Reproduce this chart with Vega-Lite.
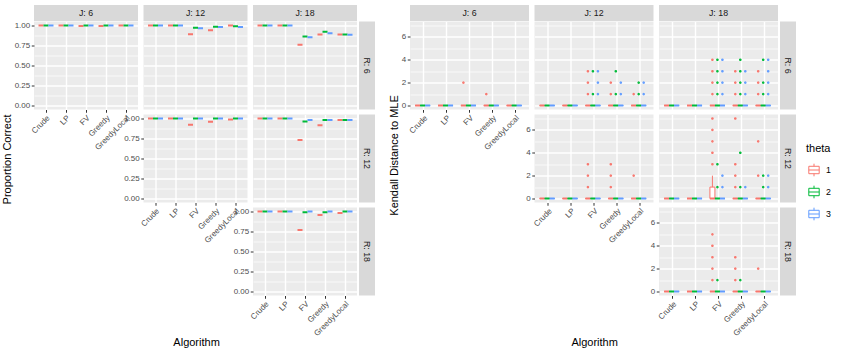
{
"$schema": "https://vega.github.io/schema/vega-lite/v6.json",
"padding": {"left": 2, "top": 5, "right": 2, "bottom": 0},
"datasets": {
"pc": [
{"J":6,"R":6,"Algorithm":"Crude","theta":1,"value":1},{"J":6,"R":6,"Algorithm":"Crude","theta":2,"value":1},{"J":6,"R":6,"Algorithm":"Crude","theta":3,"value":1},
{"J":6,"R":6,"Algorithm":"LP","theta":1,"value":1},{"J":6,"R":6,"Algorithm":"LP","theta":2,"value":1},{"J":6,"R":6,"Algorithm":"LP","theta":3,"value":1},
{"J":6,"R":6,"Algorithm":"FV","theta":1,"value":0.995},{"J":6,"R":6,"Algorithm":"FV","theta":2,"value":1},{"J":6,"R":6,"Algorithm":"FV","theta":3,"value":1},
{"J":6,"R":6,"Algorithm":"Greedy","theta":1,"value":0.995},{"J":6,"R":6,"Algorithm":"Greedy","theta":2,"value":1},{"J":6,"R":6,"Algorithm":"Greedy","theta":3,"value":1},
{"J":6,"R":6,"Algorithm":"GreedyLocal","theta":1,"value":1},{"J":6,"R":6,"Algorithm":"GreedyLocal","theta":2,"value":1},{"J":6,"R":6,"Algorithm":"GreedyLocal","theta":3,"value":1},
{"J":12,"R":6,"Algorithm":"Crude","theta":1,"value":1},{"J":12,"R":6,"Algorithm":"Crude","theta":2,"value":1},{"J":12,"R":6,"Algorithm":"Crude","theta":3,"value":1},
{"J":12,"R":6,"Algorithm":"LP","theta":1,"value":1},{"J":12,"R":6,"Algorithm":"LP","theta":2,"value":1},{"J":12,"R":6,"Algorithm":"LP","theta":3,"value":1},
{"J":12,"R":6,"Algorithm":"FV","theta":1,"value":0.89},{"J":12,"R":6,"Algorithm":"FV","theta":2,"value":0.972},{"J":12,"R":6,"Algorithm":"FV","theta":3,"value":0.967},
{"J":12,"R":6,"Algorithm":"Greedy","theta":1,"value":0.942},{"J":12,"R":6,"Algorithm":"Greedy","theta":2,"value":0.985},{"J":12,"R":6,"Algorithm":"Greedy","theta":3,"value":0.98},
{"J":12,"R":6,"Algorithm":"GreedyLocal","theta":1,"value":1},{"J":12,"R":6,"Algorithm":"GreedyLocal","theta":2,"value":0.99},{"J":12,"R":6,"Algorithm":"GreedyLocal","theta":3,"value":0.98},
{"J":18,"R":6,"Algorithm":"Crude","theta":1,"value":1},{"J":18,"R":6,"Algorithm":"Crude","theta":2,"value":1},{"J":18,"R":6,"Algorithm":"Crude","theta":3,"value":1},
{"J":18,"R":6,"Algorithm":"LP","theta":1,"value":1},{"J":18,"R":6,"Algorithm":"LP","theta":2,"value":1},{"J":18,"R":6,"Algorithm":"LP","theta":3,"value":1},
{"J":18,"R":6,"Algorithm":"FV","theta":1,"value":0.76},{"J":18,"R":6,"Algorithm":"FV","theta":2,"value":0.862},{"J":18,"R":6,"Algorithm":"FV","theta":3,"value":0.854},
{"J":18,"R":6,"Algorithm":"Greedy","theta":1,"value":0.888},{"J":18,"R":6,"Algorithm":"Greedy","theta":2,"value":0.923},{"J":18,"R":6,"Algorithm":"Greedy","theta":3,"value":0.904},
{"J":18,"R":6,"Algorithm":"GreedyLocal","theta":1,"value":0.888},{"J":18,"R":6,"Algorithm":"GreedyLocal","theta":2,"value":0.886},{"J":18,"R":6,"Algorithm":"GreedyLocal","theta":3,"value":0.885},
{"J":12,"R":12,"Algorithm":"Crude","theta":1,"value":1},{"J":12,"R":12,"Algorithm":"Crude","theta":2,"value":1},{"J":12,"R":12,"Algorithm":"Crude","theta":3,"value":1},
{"J":12,"R":12,"Algorithm":"LP","theta":1,"value":1},{"J":12,"R":12,"Algorithm":"LP","theta":2,"value":1},{"J":12,"R":12,"Algorithm":"LP","theta":3,"value":1},
{"J":12,"R":12,"Algorithm":"FV","theta":1,"value":0.923},{"J":12,"R":12,"Algorithm":"FV","theta":2,"value":1},{"J":12,"R":12,"Algorithm":"FV","theta":3,"value":1},
{"J":12,"R":12,"Algorithm":"Greedy","theta":1,"value":0.958},{"J":12,"R":12,"Algorithm":"Greedy","theta":2,"value":1},{"J":12,"R":12,"Algorithm":"Greedy","theta":3,"value":1},
{"J":12,"R":12,"Algorithm":"GreedyLocal","theta":1,"value":0.988},{"J":12,"R":12,"Algorithm":"GreedyLocal","theta":2,"value":1},{"J":12,"R":12,"Algorithm":"GreedyLocal","theta":3,"value":1},
{"J":18,"R":12,"Algorithm":"Crude","theta":1,"value":1},{"J":18,"R":12,"Algorithm":"Crude","theta":2,"value":1},{"J":18,"R":12,"Algorithm":"Crude","theta":3,"value":1},
{"J":18,"R":12,"Algorithm":"LP","theta":1,"value":1},{"J":18,"R":12,"Algorithm":"LP","theta":2,"value":1},{"J":18,"R":12,"Algorithm":"LP","theta":3,"value":1},
{"J":18,"R":12,"Algorithm":"FV","theta":1,"value":0.73},{"J":18,"R":12,"Algorithm":"FV","theta":2,"value":0.962},{"J":18,"R":12,"Algorithm":"FV","theta":3,"value":0.981},
{"J":18,"R":12,"Algorithm":"Greedy","theta":1,"value":0.916},{"J":18,"R":12,"Algorithm":"Greedy","theta":2,"value":0.981},{"J":18,"R":12,"Algorithm":"Greedy","theta":3,"value":0.981},
{"J":18,"R":12,"Algorithm":"GreedyLocal","theta":1,"value":0.982},{"J":18,"R":12,"Algorithm":"GreedyLocal","theta":2,"value":0.982},{"J":18,"R":12,"Algorithm":"GreedyLocal","theta":3,"value":0.982},
{"J":18,"R":18,"Algorithm":"Crude","theta":1,"value":1},{"J":18,"R":18,"Algorithm":"Crude","theta":2,"value":1},{"J":18,"R":18,"Algorithm":"Crude","theta":3,"value":1},
{"J":18,"R":18,"Algorithm":"LP","theta":1,"value":1},{"J":18,"R":18,"Algorithm":"LP","theta":2,"value":1},{"J":18,"R":18,"Algorithm":"LP","theta":3,"value":1},
{"J":18,"R":18,"Algorithm":"FV","theta":1,"value":0.77},{"J":18,"R":18,"Algorithm":"FV","theta":2,"value":0.99},{"J":18,"R":18,"Algorithm":"FV","theta":3,"value":1},
{"J":18,"R":18,"Algorithm":"Greedy","theta":1,"value":0.955},{"J":18,"R":18,"Algorithm":"Greedy","theta":2,"value":0.99},{"J":18,"R":18,"Algorithm":"Greedy","theta":3,"value":1},
{"J":18,"R":18,"Algorithm":"GreedyLocal","theta":1,"value":0.98},{"J":18,"R":18,"Algorithm":"GreedyLocal","theta":2,"value":1},{"J":18,"R":18,"Algorithm":"GreedyLocal","theta":3,"value":1}
],
"kdbox": [
{"J":6,"R":6,"Algorithm":"Crude","theta":1,"q1":0,"med":0,"q3":0,"hi":0},{"J":6,"R":6,"Algorithm":"Crude","theta":2,"q1":0,"med":0,"q3":0,"hi":0},{"J":6,"R":6,"Algorithm":"Crude","theta":3,"q1":0,"med":0,"q3":0,"hi":0},
{"J":6,"R":6,"Algorithm":"LP","theta":1,"q1":0,"med":0,"q3":0,"hi":0},{"J":6,"R":6,"Algorithm":"LP","theta":2,"q1":0,"med":0,"q3":0,"hi":0},{"J":6,"R":6,"Algorithm":"LP","theta":3,"q1":0,"med":0,"q3":0,"hi":0},
{"J":6,"R":6,"Algorithm":"FV","theta":1,"q1":0,"med":0,"q3":0,"hi":0},{"J":6,"R":6,"Algorithm":"FV","theta":2,"q1":0,"med":0,"q3":0,"hi":0},{"J":6,"R":6,"Algorithm":"FV","theta":3,"q1":0,"med":0,"q3":0,"hi":0},
{"J":6,"R":6,"Algorithm":"Greedy","theta":1,"q1":0,"med":0,"q3":0,"hi":0},{"J":6,"R":6,"Algorithm":"Greedy","theta":2,"q1":0,"med":0,"q3":0,"hi":0},{"J":6,"R":6,"Algorithm":"Greedy","theta":3,"q1":0,"med":0,"q3":0,"hi":0},
{"J":6,"R":6,"Algorithm":"GreedyLocal","theta":1,"q1":0,"med":0,"q3":0,"hi":0},{"J":6,"R":6,"Algorithm":"GreedyLocal","theta":2,"q1":0,"med":0,"q3":0,"hi":0},{"J":6,"R":6,"Algorithm":"GreedyLocal","theta":3,"q1":0,"med":0,"q3":0,"hi":0},
{"J":12,"R":6,"Algorithm":"Crude","theta":1,"q1":0,"med":0,"q3":0,"hi":0},{"J":12,"R":6,"Algorithm":"Crude","theta":2,"q1":0,"med":0,"q3":0,"hi":0},{"J":12,"R":6,"Algorithm":"Crude","theta":3,"q1":0,"med":0,"q3":0,"hi":0},
{"J":12,"R":6,"Algorithm":"LP","theta":1,"q1":0,"med":0,"q3":0,"hi":0},{"J":12,"R":6,"Algorithm":"LP","theta":2,"q1":0,"med":0,"q3":0,"hi":0},{"J":12,"R":6,"Algorithm":"LP","theta":3,"q1":0,"med":0,"q3":0,"hi":0},
{"J":12,"R":6,"Algorithm":"FV","theta":1,"q1":0,"med":0,"q3":0,"hi":0},{"J":12,"R":6,"Algorithm":"FV","theta":2,"q1":0,"med":0,"q3":0,"hi":0},{"J":12,"R":6,"Algorithm":"FV","theta":3,"q1":0,"med":0,"q3":0,"hi":0},
{"J":12,"R":6,"Algorithm":"Greedy","theta":1,"q1":0,"med":0,"q3":0,"hi":0},{"J":12,"R":6,"Algorithm":"Greedy","theta":2,"q1":0,"med":0,"q3":0,"hi":0},{"J":12,"R":6,"Algorithm":"Greedy","theta":3,"q1":0,"med":0,"q3":0,"hi":0},
{"J":12,"R":6,"Algorithm":"GreedyLocal","theta":1,"q1":0,"med":0,"q3":0,"hi":0},{"J":12,"R":6,"Algorithm":"GreedyLocal","theta":2,"q1":0,"med":0,"q3":0,"hi":0},{"J":12,"R":6,"Algorithm":"GreedyLocal","theta":3,"q1":0,"med":0,"q3":0,"hi":0},
{"J":18,"R":6,"Algorithm":"Crude","theta":1,"q1":0,"med":0,"q3":0,"hi":0},{"J":18,"R":6,"Algorithm":"Crude","theta":2,"q1":0,"med":0,"q3":0,"hi":0},{"J":18,"R":6,"Algorithm":"Crude","theta":3,"q1":0,"med":0,"q3":0,"hi":0},
{"J":18,"R":6,"Algorithm":"LP","theta":1,"q1":0,"med":0,"q3":0,"hi":0},{"J":18,"R":6,"Algorithm":"LP","theta":2,"q1":0,"med":0,"q3":0,"hi":0},{"J":18,"R":6,"Algorithm":"LP","theta":3,"q1":0,"med":0,"q3":0,"hi":0},
{"J":18,"R":6,"Algorithm":"FV","theta":1,"q1":0,"med":0,"q3":0,"hi":0},{"J":18,"R":6,"Algorithm":"FV","theta":2,"q1":0,"med":0,"q3":0,"hi":0},{"J":18,"R":6,"Algorithm":"FV","theta":3,"q1":0,"med":0,"q3":0,"hi":0},
{"J":18,"R":6,"Algorithm":"Greedy","theta":1,"q1":0,"med":0,"q3":0,"hi":0},{"J":18,"R":6,"Algorithm":"Greedy","theta":2,"q1":0,"med":0,"q3":0,"hi":0},{"J":18,"R":6,"Algorithm":"Greedy","theta":3,"q1":0,"med":0,"q3":0,"hi":0},
{"J":18,"R":6,"Algorithm":"GreedyLocal","theta":1,"q1":0,"med":0,"q3":0,"hi":0},{"J":18,"R":6,"Algorithm":"GreedyLocal","theta":2,"q1":0,"med":0,"q3":0,"hi":0},{"J":18,"R":6,"Algorithm":"GreedyLocal","theta":3,"q1":0,"med":0,"q3":0,"hi":0},
{"J":12,"R":12,"Algorithm":"Crude","theta":1,"q1":0,"med":0,"q3":0,"hi":0},{"J":12,"R":12,"Algorithm":"Crude","theta":2,"q1":0,"med":0,"q3":0,"hi":0},{"J":12,"R":12,"Algorithm":"Crude","theta":3,"q1":0,"med":0,"q3":0,"hi":0},
{"J":12,"R":12,"Algorithm":"LP","theta":1,"q1":0,"med":0,"q3":0,"hi":0},{"J":12,"R":12,"Algorithm":"LP","theta":2,"q1":0,"med":0,"q3":0,"hi":0},{"J":12,"R":12,"Algorithm":"LP","theta":3,"q1":0,"med":0,"q3":0,"hi":0},
{"J":12,"R":12,"Algorithm":"FV","theta":1,"q1":0,"med":0,"q3":0,"hi":0},{"J":12,"R":12,"Algorithm":"FV","theta":2,"q1":0,"med":0,"q3":0,"hi":0},{"J":12,"R":12,"Algorithm":"FV","theta":3,"q1":0,"med":0,"q3":0,"hi":0},
{"J":12,"R":12,"Algorithm":"Greedy","theta":1,"q1":0,"med":0,"q3":0,"hi":0},{"J":12,"R":12,"Algorithm":"Greedy","theta":2,"q1":0,"med":0,"q3":0,"hi":0},{"J":12,"R":12,"Algorithm":"Greedy","theta":3,"q1":0,"med":0,"q3":0,"hi":0},
{"J":12,"R":12,"Algorithm":"GreedyLocal","theta":1,"q1":0,"med":0,"q3":0,"hi":0},{"J":12,"R":12,"Algorithm":"GreedyLocal","theta":2,"q1":0,"med":0,"q3":0,"hi":0},{"J":12,"R":12,"Algorithm":"GreedyLocal","theta":3,"q1":0,"med":0,"q3":0,"hi":0},
{"J":18,"R":12,"Algorithm":"Crude","theta":1,"q1":0,"med":0,"q3":0,"hi":0},{"J":18,"R":12,"Algorithm":"Crude","theta":2,"q1":0,"med":0,"q3":0,"hi":0},{"J":18,"R":12,"Algorithm":"Crude","theta":3,"q1":0,"med":0,"q3":0,"hi":0},
{"J":18,"R":12,"Algorithm":"LP","theta":1,"q1":0,"med":0,"q3":0,"hi":0},{"J":18,"R":12,"Algorithm":"LP","theta":2,"q1":0,"med":0,"q3":0,"hi":0},{"J":18,"R":12,"Algorithm":"LP","theta":3,"q1":0,"med":0,"q3":0,"hi":0},
{"J":18,"R":12,"Algorithm":"FV","theta":1,"q1":0,"med":0,"q3":1,"hi":2},{"J":18,"R":12,"Algorithm":"FV","theta":2,"q1":0,"med":0,"q3":0,"hi":0},{"J":18,"R":12,"Algorithm":"FV","theta":3,"q1":0,"med":0,"q3":0,"hi":0},
{"J":18,"R":12,"Algorithm":"Greedy","theta":1,"q1":0,"med":0,"q3":0,"hi":0},{"J":18,"R":12,"Algorithm":"Greedy","theta":2,"q1":0,"med":0,"q3":0,"hi":0},{"J":18,"R":12,"Algorithm":"Greedy","theta":3,"q1":0,"med":0,"q3":0,"hi":0},
{"J":18,"R":12,"Algorithm":"GreedyLocal","theta":1,"q1":0,"med":0,"q3":0,"hi":0},{"J":18,"R":12,"Algorithm":"GreedyLocal","theta":2,"q1":0,"med":0,"q3":0,"hi":0},{"J":18,"R":12,"Algorithm":"GreedyLocal","theta":3,"q1":0,"med":0,"q3":0,"hi":0},
{"J":18,"R":18,"Algorithm":"Crude","theta":1,"q1":0,"med":0,"q3":0,"hi":0},{"J":18,"R":18,"Algorithm":"Crude","theta":2,"q1":0,"med":0,"q3":0,"hi":0},{"J":18,"R":18,"Algorithm":"Crude","theta":3,"q1":0,"med":0,"q3":0,"hi":0},
{"J":18,"R":18,"Algorithm":"LP","theta":1,"q1":0,"med":0,"q3":0,"hi":0},{"J":18,"R":18,"Algorithm":"LP","theta":2,"q1":0,"med":0,"q3":0,"hi":0},{"J":18,"R":18,"Algorithm":"LP","theta":3,"q1":0,"med":0,"q3":0,"hi":0},
{"J":18,"R":18,"Algorithm":"FV","theta":1,"q1":0,"med":0,"q3":0,"hi":0},{"J":18,"R":18,"Algorithm":"FV","theta":2,"q1":0,"med":0,"q3":0,"hi":0},{"J":18,"R":18,"Algorithm":"FV","theta":3,"q1":0,"med":0,"q3":0,"hi":0},
{"J":18,"R":18,"Algorithm":"Greedy","theta":1,"q1":0,"med":0,"q3":0,"hi":0},{"J":18,"R":18,"Algorithm":"Greedy","theta":2,"q1":0,"med":0,"q3":0,"hi":0},{"J":18,"R":18,"Algorithm":"Greedy","theta":3,"q1":0,"med":0,"q3":0,"hi":0},
{"J":18,"R":18,"Algorithm":"GreedyLocal","theta":1,"q1":0,"med":0,"q3":0,"hi":0},{"J":18,"R":18,"Algorithm":"GreedyLocal","theta":2,"q1":0,"med":0,"q3":0,"hi":0},{"J":18,"R":18,"Algorithm":"GreedyLocal","theta":3,"q1":0,"med":0,"q3":0,"hi":0}
],
"kdout": [
{"J":6,"R":6,"Algorithm":"FV","theta":1,"value":2},{"J":6,"R":6,"Algorithm":"Greedy","theta":1,"value":1},
{"J":12,"R":6,"Algorithm":"FV","theta":1,"value":1},{"J":12,"R":6,"Algorithm":"FV","theta":1,"value":2},{"J":12,"R":6,"Algorithm":"FV","theta":1,"value":3},
{"J":12,"R":6,"Algorithm":"FV","theta":2,"value":1},{"J":12,"R":6,"Algorithm":"FV","theta":2,"value":3},
{"J":12,"R":6,"Algorithm":"FV","theta":3,"value":1},{"J":12,"R":6,"Algorithm":"FV","theta":3,"value":2},{"J":12,"R":6,"Algorithm":"FV","theta":3,"value":3},
{"J":12,"R":6,"Algorithm":"Greedy","theta":1,"value":1},{"J":12,"R":6,"Algorithm":"Greedy","theta":1,"value":2},
{"J":12,"R":6,"Algorithm":"Greedy","theta":2,"value":1},{"J":12,"R":6,"Algorithm":"Greedy","theta":2,"value":3},
{"J":12,"R":6,"Algorithm":"Greedy","theta":3,"value":1},{"J":12,"R":6,"Algorithm":"Greedy","theta":3,"value":2},
{"J":12,"R":6,"Algorithm":"GreedyLocal","theta":1,"value":1},
{"J":12,"R":6,"Algorithm":"GreedyLocal","theta":2,"value":1},{"J":12,"R":6,"Algorithm":"GreedyLocal","theta":2,"value":2},
{"J":12,"R":6,"Algorithm":"GreedyLocal","theta":3,"value":1},{"J":12,"R":6,"Algorithm":"GreedyLocal","theta":3,"value":2},
{"J":18,"R":6,"Algorithm":"FV","theta":1,"value":1},{"J":18,"R":6,"Algorithm":"FV","theta":1,"value":2},{"J":18,"R":6,"Algorithm":"FV","theta":1,"value":3},{"J":18,"R":6,"Algorithm":"FV","theta":1,"value":4},
{"J":18,"R":6,"Algorithm":"FV","theta":2,"value":1},{"J":18,"R":6,"Algorithm":"FV","theta":2,"value":2},{"J":18,"R":6,"Algorithm":"FV","theta":2,"value":3},{"J":18,"R":6,"Algorithm":"FV","theta":2,"value":4},
{"J":18,"R":6,"Algorithm":"FV","theta":3,"value":1},{"J":18,"R":6,"Algorithm":"FV","theta":3,"value":2},{"J":18,"R":6,"Algorithm":"FV","theta":3,"value":3},{"J":18,"R":6,"Algorithm":"FV","theta":3,"value":4},
{"J":18,"R":6,"Algorithm":"Greedy","theta":1,"value":1},{"J":18,"R":6,"Algorithm":"Greedy","theta":1,"value":2},{"J":18,"R":6,"Algorithm":"Greedy","theta":1,"value":3},
{"J":18,"R":6,"Algorithm":"Greedy","theta":2,"value":1},{"J":18,"R":6,"Algorithm":"Greedy","theta":2,"value":2},{"J":18,"R":6,"Algorithm":"Greedy","theta":2,"value":3},{"J":18,"R":6,"Algorithm":"Greedy","theta":2,"value":4},
{"J":18,"R":6,"Algorithm":"Greedy","theta":3,"value":1},{"J":18,"R":6,"Algorithm":"Greedy","theta":3,"value":2},{"J":18,"R":6,"Algorithm":"Greedy","theta":3,"value":3},
{"J":18,"R":6,"Algorithm":"GreedyLocal","theta":1,"value":1},{"J":18,"R":6,"Algorithm":"GreedyLocal","theta":1,"value":2},{"J":18,"R":6,"Algorithm":"GreedyLocal","theta":1,"value":3},
{"J":18,"R":6,"Algorithm":"GreedyLocal","theta":2,"value":1},{"J":18,"R":6,"Algorithm":"GreedyLocal","theta":2,"value":2},{"J":18,"R":6,"Algorithm":"GreedyLocal","theta":2,"value":4},
{"J":18,"R":6,"Algorithm":"GreedyLocal","theta":3,"value":1},{"J":18,"R":6,"Algorithm":"GreedyLocal","theta":3,"value":2},{"J":18,"R":6,"Algorithm":"GreedyLocal","theta":3,"value":3},{"J":18,"R":6,"Algorithm":"GreedyLocal","theta":3,"value":4},
{"J":12,"R":12,"Algorithm":"FV","theta":1,"value":1},{"J":12,"R":12,"Algorithm":"FV","theta":1,"value":2},{"J":12,"R":12,"Algorithm":"FV","theta":1,"value":3},
{"J":12,"R":12,"Algorithm":"Greedy","theta":1,"value":1},{"J":12,"R":12,"Algorithm":"Greedy","theta":1,"value":2},{"J":12,"R":12,"Algorithm":"Greedy","theta":1,"value":3},
{"J":12,"R":12,"Algorithm":"GreedyLocal","theta":1,"value":2},
{"J":18,"R":12,"Algorithm":"FV","theta":1,"value":3},{"J":18,"R":12,"Algorithm":"FV","theta":1,"value":4},{"J":18,"R":12,"Algorithm":"FV","theta":1,"value":5},{"J":18,"R":12,"Algorithm":"FV","theta":1,"value":6},{"J":18,"R":12,"Algorithm":"FV","theta":1,"value":7},
{"J":18,"R":12,"Algorithm":"FV","theta":2,"value":1},{"J":18,"R":12,"Algorithm":"FV","theta":2,"value":3},
{"J":18,"R":12,"Algorithm":"FV","theta":3,"value":1},{"J":18,"R":12,"Algorithm":"FV","theta":3,"value":2},
{"J":18,"R":12,"Algorithm":"Greedy","theta":1,"value":1},{"J":18,"R":12,"Algorithm":"Greedy","theta":1,"value":2},{"J":18,"R":12,"Algorithm":"Greedy","theta":1,"value":3},{"J":18,"R":12,"Algorithm":"Greedy","theta":1,"value":7},
{"J":18,"R":12,"Algorithm":"Greedy","theta":2,"value":1},{"J":18,"R":12,"Algorithm":"Greedy","theta":2,"value":4},
{"J":18,"R":12,"Algorithm":"Greedy","theta":3,"value":1},
{"J":18,"R":12,"Algorithm":"GreedyLocal","theta":1,"value":2},{"J":18,"R":12,"Algorithm":"GreedyLocal","theta":1,"value":5},
{"J":18,"R":12,"Algorithm":"GreedyLocal","theta":2,"value":1},{"J":18,"R":12,"Algorithm":"GreedyLocal","theta":2,"value":2},
{"J":18,"R":12,"Algorithm":"GreedyLocal","theta":3,"value":1},{"J":18,"R":12,"Algorithm":"GreedyLocal","theta":3,"value":2},
{"J":18,"R":18,"Algorithm":"FV","theta":1,"value":1},{"J":18,"R":18,"Algorithm":"FV","theta":1,"value":2},{"J":18,"R":18,"Algorithm":"FV","theta":1,"value":3},{"J":18,"R":18,"Algorithm":"FV","theta":1,"value":4},{"J":18,"R":18,"Algorithm":"FV","theta":1,"value":5},
{"J":18,"R":18,"Algorithm":"FV","theta":2,"value":1},
{"J":18,"R":18,"Algorithm":"Greedy","theta":1,"value":1},{"J":18,"R":18,"Algorithm":"Greedy","theta":1,"value":2},{"J":18,"R":18,"Algorithm":"Greedy","theta":1,"value":3},
{"J":18,"R":18,"Algorithm":"Greedy","theta":2,"value":1},
{"J":18,"R":18,"Algorithm":"GreedyLocal","theta":1,"value":2}
]
},
"hconcat": [
{
"title": {"text": "Algorithm", "orient": "bottom", "anchor": "middle", "offset": 0, "dx": 8},
"spacing": 0.5,
"vconcat": [
{"spacing": 5.5, "hconcat": [
{"width": 104, "height": 16, "view": {"fill": "#D9D9D9", "stroke": null}, "data": {"values": [{"label": "J: 6"}]}, "mark": {"type": "text", "fontSize": 8.8, "color": "#1A1A1A"}, "encoding": {"text": {"field": "label"}}},
{"width": 104, "height": 16, "view": {"fill": "#D9D9D9", "stroke": null}, "data": {"values": [{"label": "J: 12"}]}, "mark": {"type": "text", "fontSize": 8.8, "color": "#1A1A1A"}, "encoding": {"text": {"field": "label"}}},
{"width": 104, "height": 16, "view": {"fill": "#D9D9D9", "stroke": null}, "data": {"values": [{"label": "J: 18"}]}, "mark": {"type": "text", "fontSize": 8.8, "color": "#1A1A1A"}, "encoding": {"text": {"field": "label"}}}
]},
{"spacing": 2, "hconcat": [
{"title": {"text": "Proportion Correct", "orient": "left", "anchor": "middle", "offset": 1, "dx": 20},
 "columns": 3, "spacing": {"row": 5, "column": 5.5}, "bounds": "flush",
 "concat": [
{"width": 104, "height": 88, "data": {"name": "pc"}, "transform": [{"filter": "datum.J == 6 && datum.R == 6"}],
 "mark": {"type": "bar", "filled": false, "strokeWidth": 2},
 "encoding": {
  "x": {"field": "Algorithm", "type": "nominal", "sort": ["Crude","LP","FV","Greedy","GreedyLocal"], "scale": {"paddingInner": 0.25, "paddingOuter": 0.225}, "title": null, "axis": {"labels": true, "ticks": true}},
  "xOffset": {"field": "theta", "type": "nominal", "scale": {"paddingInner": 0, "paddingOuter": 0}},
  "y": {"field": "value", "type": "quantitative", "title": null, "scale": {"domain": [-0.05, 1.05], "nice": false, "zero": false}, "axis": {"values": [0,0.125,0.25,0.375,0.5,0.625,0.75,0.875,1], "format": ".2f", "labelExpr": "round(datum.value*4) == datum.value*4 ? datum.label : ''", "gridWidth": {"condition": {"test": "round(datum.value*4) == datum.value*4", "value": 1.4}, "value": 0.7}, "tickColor": {"condition": {"test": "round(datum.value*4) == datum.value*4", "value": "#333333"}, "value": "transparent"}}},
  "y2": {"field": "value"},
  "color": {"field": "theta", "type": "nominal", "scale": {"domain": [1,2,3], "range": ["#F8766D","#00BA38","#619CFF"]}, "legend": {"title": "theta", "orient": "none", "legendX": 772, "legendY": 138, "symbolType": "M0,-0.85L0,-0.5M-0.7,-0.5L0.7,-0.5L0.7,0.5L-0.7,0.5ZM-0.7,0L0.7,0M0,0.5L0,0.85", "symbolSize": 220, "symbolStrokeWidth": 1, "titleFontSize": 11, "titleFontWeight": "normal", "titleColor": "black", "labelFontSize": 8.8, "labelColor": "black", "rowPadding": 4, "titlePadding": 8}}
 }},
{"width": 104, "height": 88, "data": {"name": "pc"}, "transform": [{"filter": "datum.J == 12 && datum.R == 6"}],
 "mark": {"type": "bar", "filled": false, "strokeWidth": 2},
 "encoding": {
  "x": {"field": "Algorithm", "type": "nominal", "sort": ["Crude","LP","FV","Greedy","GreedyLocal"], "scale": {"paddingInner": 0.25, "paddingOuter": 0.225}, "title": null, "axis": {"labels": false, "ticks": false}},
  "xOffset": {"field": "theta", "type": "nominal", "scale": {"paddingInner": 0, "paddingOuter": 0}},
  "y": {"field": "value", "type": "quantitative", "title": null, "scale": {"domain": [-0.05, 1.05], "nice": false, "zero": false}, "axis": {"values": [0,0.125,0.25,0.375,0.5,0.625,0.75,0.875,1], "labels": false, "ticks": false, "gridWidth": {"condition": {"test": "round(datum.value*4) == datum.value*4", "value": 1.4}, "value": 0.7}}},
  "y2": {"field": "value"},
  "color": {"field": "theta", "type": "nominal", "scale": {"domain": [1,2,3], "range": ["#F8766D","#00BA38","#619CFF"]}, "legend": {"title": "theta", "orient": "none", "legendX": 772, "legendY": 138, "symbolType": "M0,-0.85L0,-0.5M-0.7,-0.5L0.7,-0.5L0.7,0.5L-0.7,0.5ZM-0.7,0L0.7,0M0,0.5L0,0.85", "symbolSize": 220, "symbolStrokeWidth": 1, "titleFontSize": 11, "titleFontWeight": "normal", "titleColor": "black", "labelFontSize": 8.8, "labelColor": "black", "rowPadding": 4, "titlePadding": 8}}
 }},
{"width": 104, "height": 88, "data": {"name": "pc"}, "transform": [{"filter": "datum.J == 18 && datum.R == 6"}],
 "mark": {"type": "bar", "filled": false, "strokeWidth": 2},
 "encoding": {
  "x": {"field": "Algorithm", "type": "nominal", "sort": ["Crude","LP","FV","Greedy","GreedyLocal"], "scale": {"paddingInner": 0.25, "paddingOuter": 0.225}, "title": null, "axis": {"labels": false, "ticks": false}},
  "xOffset": {"field": "theta", "type": "nominal", "scale": {"paddingInner": 0, "paddingOuter": 0}},
  "y": {"field": "value", "type": "quantitative", "title": null, "scale": {"domain": [-0.05, 1.05], "nice": false, "zero": false}, "axis": {"values": [0,0.125,0.25,0.375,0.5,0.625,0.75,0.875,1], "labels": false, "ticks": false, "gridWidth": {"condition": {"test": "round(datum.value*4) == datum.value*4", "value": 1.4}, "value": 0.7}}},
  "y2": {"field": "value"},
  "color": {"field": "theta", "type": "nominal", "scale": {"domain": [1,2,3], "range": ["#F8766D","#00BA38","#619CFF"]}, "legend": {"title": "theta", "orient": "none", "legendX": 772, "legendY": 138, "symbolType": "M0,-0.85L0,-0.5M-0.7,-0.5L0.7,-0.5L0.7,0.5L-0.7,0.5ZM-0.7,0L0.7,0M0,0.5L0,0.85", "symbolSize": 220, "symbolStrokeWidth": 1, "titleFontSize": 11, "titleFontWeight": "normal", "titleColor": "black", "labelFontSize": 8.8, "labelColor": "black", "rowPadding": 4, "titlePadding": 8}}
 }},
{"width": 104, "height": 88, "view": {"fill": null, "stroke": null}, "data": {"values": []}, "mark": "point", "encoding": {}},
{"width": 104, "height": 88, "data": {"name": "pc"}, "transform": [{"filter": "datum.J == 12 && datum.R == 12"}],
 "mark": {"type": "bar", "filled": false, "strokeWidth": 2},
 "encoding": {
  "x": {"field": "Algorithm", "type": "nominal", "sort": ["Crude","LP","FV","Greedy","GreedyLocal"], "scale": {"paddingInner": 0.25, "paddingOuter": 0.225}, "title": null, "axis": {"labels": true, "ticks": true}},
  "xOffset": {"field": "theta", "type": "nominal", "scale": {"paddingInner": 0, "paddingOuter": 0}},
  "y": {"field": "value", "type": "quantitative", "title": null, "scale": {"domain": [-0.05, 1.05], "nice": false, "zero": false}, "axis": {"values": [0,0.125,0.25,0.375,0.5,0.625,0.75,0.875,1], "format": ".2f", "labelExpr": "round(datum.value*4) == datum.value*4 ? datum.label : ''", "gridWidth": {"condition": {"test": "round(datum.value*4) == datum.value*4", "value": 1.4}, "value": 0.7}, "tickColor": {"condition": {"test": "round(datum.value*4) == datum.value*4", "value": "#333333"}, "value": "transparent"}}},
  "y2": {"field": "value"},
  "color": {"field": "theta", "type": "nominal", "scale": {"domain": [1,2,3], "range": ["#F8766D","#00BA38","#619CFF"]}, "legend": {"title": "theta", "orient": "none", "legendX": 772, "legendY": 138, "symbolType": "M0,-0.85L0,-0.5M-0.7,-0.5L0.7,-0.5L0.7,0.5L-0.7,0.5ZM-0.7,0L0.7,0M0,0.5L0,0.85", "symbolSize": 220, "symbolStrokeWidth": 1, "titleFontSize": 11, "titleFontWeight": "normal", "titleColor": "black", "labelFontSize": 8.8, "labelColor": "black", "rowPadding": 4, "titlePadding": 8}}
 }},
{"width": 104, "height": 88, "data": {"name": "pc"}, "transform": [{"filter": "datum.J == 18 && datum.R == 12"}],
 "mark": {"type": "bar", "filled": false, "strokeWidth": 2},
 "encoding": {
  "x": {"field": "Algorithm", "type": "nominal", "sort": ["Crude","LP","FV","Greedy","GreedyLocal"], "scale": {"paddingInner": 0.25, "paddingOuter": 0.225}, "title": null, "axis": {"labels": false, "ticks": false}},
  "xOffset": {"field": "theta", "type": "nominal", "scale": {"paddingInner": 0, "paddingOuter": 0}},
  "y": {"field": "value", "type": "quantitative", "title": null, "scale": {"domain": [-0.05, 1.05], "nice": false, "zero": false}, "axis": {"values": [0,0.125,0.25,0.375,0.5,0.625,0.75,0.875,1], "labels": false, "ticks": false, "gridWidth": {"condition": {"test": "round(datum.value*4) == datum.value*4", "value": 1.4}, "value": 0.7}}},
  "y2": {"field": "value"},
  "color": {"field": "theta", "type": "nominal", "scale": {"domain": [1,2,3], "range": ["#F8766D","#00BA38","#619CFF"]}, "legend": {"title": "theta", "orient": "none", "legendX": 772, "legendY": 138, "symbolType": "M0,-0.85L0,-0.5M-0.7,-0.5L0.7,-0.5L0.7,0.5L-0.7,0.5ZM-0.7,0L0.7,0M0,0.5L0,0.85", "symbolSize": 220, "symbolStrokeWidth": 1, "titleFontSize": 11, "titleFontWeight": "normal", "titleColor": "black", "labelFontSize": 8.8, "labelColor": "black", "rowPadding": 4, "titlePadding": 8}}
 }},
{"width": 104, "height": 88, "view": {"fill": null, "stroke": null}, "data": {"values": []}, "mark": "point", "encoding": {}},
{"width": 104, "height": 88, "view": {"fill": null, "stroke": null}, "data": {"values": []}, "mark": "point", "encoding": {}},
{"width": 104, "height": 88, "data": {"name": "pc"}, "transform": [{"filter": "datum.J == 18 && datum.R == 18"}],
 "mark": {"type": "bar", "filled": false, "strokeWidth": 2},
 "encoding": {
  "x": {"field": "Algorithm", "type": "nominal", "sort": ["Crude","LP","FV","Greedy","GreedyLocal"], "scale": {"paddingInner": 0.25, "paddingOuter": 0.225}, "title": null, "axis": {"labels": true, "ticks": true}},
  "xOffset": {"field": "theta", "type": "nominal", "scale": {"paddingInner": 0, "paddingOuter": 0}},
  "y": {"field": "value", "type": "quantitative", "title": null, "scale": {"domain": [-0.05, 1.05], "nice": false, "zero": false}, "axis": {"values": [0,0.125,0.25,0.375,0.5,0.625,0.75,0.875,1], "format": ".2f", "labelExpr": "round(datum.value*4) == datum.value*4 ? datum.label : ''", "gridWidth": {"condition": {"test": "round(datum.value*4) == datum.value*4", "value": 1.4}, "value": 0.7}, "tickColor": {"condition": {"test": "round(datum.value*4) == datum.value*4", "value": "#333333"}, "value": "transparent"}}},
  "y2": {"field": "value"},
  "color": {"field": "theta", "type": "nominal", "scale": {"domain": [1,2,3], "range": ["#F8766D","#00BA38","#619CFF"]}, "legend": {"title": "theta", "orient": "none", "legendX": 772, "legendY": 138, "symbolType": "M0,-0.85L0,-0.5M-0.7,-0.5L0.7,-0.5L0.7,0.5L-0.7,0.5ZM-0.7,0L0.7,0M0,0.5L0,0.85", "symbolSize": 220, "symbolStrokeWidth": 1, "titleFontSize": 11, "titleFontWeight": "normal", "titleColor": "black", "labelFontSize": 8.8, "labelColor": "black", "rowPadding": 4, "titlePadding": 8}}
 }}
 ]},
{"spacing": 5, "vconcat": [
{"width": 16, "height": 88, "view": {"fill": "#D9D9D9", "stroke": null}, "data": {"values": [{"label": "R: 6"}]}, "mark": {"type": "text", "fontSize": 8.8, "color": "#1A1A1A", "angle": 90}, "encoding": {"text": {"field": "label"}}},
{"width": 16, "height": 88, "view": {"fill": "#D9D9D9", "stroke": null}, "data": {"values": [{"label": "R: 12"}]}, "mark": {"type": "text", "fontSize": 8.8, "color": "#1A1A1A", "angle": 90}, "encoding": {"text": {"field": "label"}}},
{"width": 16, "height": 88, "view": {"fill": "#D9D9D9", "stroke": null}, "data": {"values": [{"label": "R: 18"}]}, "mark": {"type": "text", "fontSize": 8.8, "color": "#1A1A1A", "angle": 90}, "encoding": {"text": {"field": "label"}}}
]}
]}
]
},
{
"title": {"text": "Algorithm", "orient": "bottom", "anchor": "middle", "offset": 0, "dx": 2},
"spacing": 0.5,
"vconcat": [
{"spacing": 5.5, "hconcat": [
{"width": 119, "height": 16, "view": {"fill": "#D9D9D9", "stroke": null}, "data": {"values": [{"label": "J: 6"}]}, "mark": {"type": "text", "fontSize": 8.8, "color": "#1A1A1A"}, "encoding": {"text": {"field": "label"}}},
{"width": 119, "height": 16, "view": {"fill": "#D9D9D9", "stroke": null}, "data": {"values": [{"label": "J: 12"}]}, "mark": {"type": "text", "fontSize": 8.8, "color": "#1A1A1A"}, "encoding": {"text": {"field": "label"}}},
{"width": 119, "height": 16, "view": {"fill": "#D9D9D9", "stroke": null}, "data": {"values": [{"label": "J: 18"}]}, "mark": {"type": "text", "fontSize": 8.8, "color": "#1A1A1A"}, "encoding": {"text": {"field": "label"}}}
]},
{"spacing": 2, "hconcat": [
{"title": {"text": "Kendall Distance to MLE", "orient": "left", "anchor": "middle", "offset": 1, "dx": 24},
 "columns": 3, "spacing": {"row": 5, "column": 5.5}, "bounds": "flush",
 "concat": [
{"width": 119, "height": 88,
 "encoding": {
  "x": {"field": "Algorithm", "type": "nominal", "sort": ["Crude","LP","FV","Greedy","GreedyLocal"], "scale": {"paddingInner": 0.25, "paddingOuter": 0.225}, "title": null, "axis": {"labels": true, "ticks": true}},
  "xOffset": {"field": "theta", "type": "nominal", "scale": {"paddingInner": 0, "paddingOuter": 0}},
  "color": {"field": "theta", "type": "nominal", "scale": {"domain": [1,2,3], "range": ["#F8766D","#00BA38","#619CFF"]}, "legend": {"title": "theta", "orient": "none", "legendX": 772, "legendY": 138, "symbolType": "M0,-0.85L0,-0.5M-0.7,-0.5L0.7,-0.5L0.7,0.5L-0.7,0.5ZM-0.7,0L0.7,0M0,0.5L0,0.85", "symbolSize": 220, "symbolStrokeWidth": 1, "titleFontSize": 11, "titleFontWeight": "normal", "titleColor": "black", "labelFontSize": 8.8, "labelColor": "black", "rowPadding": 4, "titlePadding": 8}}
 },
 "layer": [
  {"data": {"name": "kdbox"}, "transform": [{"filter": "datum.J == 6 && datum.R == 6"}], "mark": {"type": "bar", "filled": false, "fill": "white", "strokeWidth": 1},
   "encoding": {"y": {"field": "q1", "type": "quantitative", "title": null, "scale": {"domain": [-0.35, 7.35], "nice": false, "zero": false}, "axis": {"values": [0,1,2,3,4,5,6,7], "labelExpr": "datum.value % 2 == 0 ? datum.label : ''", "gridWidth": {"condition": {"test": "datum.value % 2 == 0", "value": 1.4}, "value": 0.7}, "tickColor": {"condition": {"test": "datum.value % 2 == 0", "value": "#333333"}, "value": "transparent"}}}, "y2": {"field": "q3"}}},
  {"data": {"name": "kdbox"}, "transform": [{"filter": "datum.J == 6 && datum.R == 6"}], "mark": {"type": "rule", "strokeWidth": 1},
   "encoding": {"y": {"field": "q3", "type": "quantitative", "title": null, "scale": {"domain": [-0.35, 7.35], "nice": false, "zero": false}, "axis": {"values": [0,1,2,3,4,5,6,7], "labelExpr": "datum.value % 2 == 0 ? datum.label : ''", "gridWidth": {"condition": {"test": "datum.value % 2 == 0", "value": 1.4}, "value": 0.7}, "tickColor": {"condition": {"test": "datum.value % 2 == 0", "value": "#333333"}, "value": "transparent"}}}, "y2": {"field": "hi"}}},
  {"data": {"name": "kdbox"}, "transform": [{"filter": "datum.J == 6 && datum.R == 6"}], "mark": {"type": "bar", "filled": false, "strokeWidth": 2},
   "encoding": {"y": {"field": "med", "type": "quantitative", "title": null, "scale": {"domain": [-0.35, 7.35], "nice": false, "zero": false}, "axis": {"values": [0,1,2,3,4,5,6,7], "labelExpr": "datum.value % 2 == 0 ? datum.label : ''", "gridWidth": {"condition": {"test": "datum.value % 2 == 0", "value": 1.4}, "value": 0.7}, "tickColor": {"condition": {"test": "datum.value % 2 == 0", "value": "#333333"}, "value": "transparent"}}}, "y2": {"field": "med"}}},
  {"data": {"name": "kdout"}, "transform": [{"filter": "datum.J == 6 && datum.R == 6"}], "mark": {"type": "point", "filled": false, "size": 2, "strokeWidth": 1.2, "opacity": 1},
   "encoding": {"y": {"field": "value", "type": "quantitative", "title": null, "scale": {"domain": [-0.35, 7.35], "nice": false, "zero": false}, "axis": {"values": [0,1,2,3,4,5,6,7], "labelExpr": "datum.value % 2 == 0 ? datum.label : ''", "gridWidth": {"condition": {"test": "datum.value % 2 == 0", "value": 1.4}, "value": 0.7}, "tickColor": {"condition": {"test": "datum.value % 2 == 0", "value": "#333333"}, "value": "transparent"}}}}}
 ]},
{"width": 119, "height": 88,
 "encoding": {
  "x": {"field": "Algorithm", "type": "nominal", "sort": ["Crude","LP","FV","Greedy","GreedyLocal"], "scale": {"paddingInner": 0.25, "paddingOuter": 0.225}, "title": null, "axis": {"labels": false, "ticks": false}},
  "xOffset": {"field": "theta", "type": "nominal", "scale": {"paddingInner": 0, "paddingOuter": 0}},
  "color": {"field": "theta", "type": "nominal", "scale": {"domain": [1,2,3], "range": ["#F8766D","#00BA38","#619CFF"]}, "legend": {"title": "theta", "orient": "none", "legendX": 772, "legendY": 138, "symbolType": "M0,-0.85L0,-0.5M-0.7,-0.5L0.7,-0.5L0.7,0.5L-0.7,0.5ZM-0.7,0L0.7,0M0,0.5L0,0.85", "symbolSize": 220, "symbolStrokeWidth": 1, "titleFontSize": 11, "titleFontWeight": "normal", "titleColor": "black", "labelFontSize": 8.8, "labelColor": "black", "rowPadding": 4, "titlePadding": 8}}
 },
 "layer": [
  {"data": {"name": "kdbox"}, "transform": [{"filter": "datum.J == 12 && datum.R == 6"}], "mark": {"type": "bar", "filled": false, "fill": "white", "strokeWidth": 1},
   "encoding": {"y": {"field": "q1", "type": "quantitative", "title": null, "scale": {"domain": [-0.35, 7.35], "nice": false, "zero": false}, "axis": {"values": [0,1,2,3,4,5,6,7], "labels": false, "ticks": false, "gridWidth": {"condition": {"test": "datum.value % 2 == 0", "value": 1.4}, "value": 0.7}}}, "y2": {"field": "q3"}}},
  {"data": {"name": "kdbox"}, "transform": [{"filter": "datum.J == 12 && datum.R == 6"}], "mark": {"type": "rule", "strokeWidth": 1},
   "encoding": {"y": {"field": "q3", "type": "quantitative", "title": null, "scale": {"domain": [-0.35, 7.35], "nice": false, "zero": false}, "axis": {"values": [0,1,2,3,4,5,6,7], "labels": false, "ticks": false, "gridWidth": {"condition": {"test": "datum.value % 2 == 0", "value": 1.4}, "value": 0.7}}}, "y2": {"field": "hi"}}},
  {"data": {"name": "kdbox"}, "transform": [{"filter": "datum.J == 12 && datum.R == 6"}], "mark": {"type": "bar", "filled": false, "strokeWidth": 2},
   "encoding": {"y": {"field": "med", "type": "quantitative", "title": null, "scale": {"domain": [-0.35, 7.35], "nice": false, "zero": false}, "axis": {"values": [0,1,2,3,4,5,6,7], "labels": false, "ticks": false, "gridWidth": {"condition": {"test": "datum.value % 2 == 0", "value": 1.4}, "value": 0.7}}}, "y2": {"field": "med"}}},
  {"data": {"name": "kdout"}, "transform": [{"filter": "datum.J == 12 && datum.R == 6"}], "mark": {"type": "point", "filled": false, "size": 2, "strokeWidth": 1.2, "opacity": 1},
   "encoding": {"y": {"field": "value", "type": "quantitative", "title": null, "scale": {"domain": [-0.35, 7.35], "nice": false, "zero": false}, "axis": {"values": [0,1,2,3,4,5,6,7], "labels": false, "ticks": false, "gridWidth": {"condition": {"test": "datum.value % 2 == 0", "value": 1.4}, "value": 0.7}}}}}
 ]},
{"width": 119, "height": 88,
 "encoding": {
  "x": {"field": "Algorithm", "type": "nominal", "sort": ["Crude","LP","FV","Greedy","GreedyLocal"], "scale": {"paddingInner": 0.25, "paddingOuter": 0.225}, "title": null, "axis": {"labels": false, "ticks": false}},
  "xOffset": {"field": "theta", "type": "nominal", "scale": {"paddingInner": 0, "paddingOuter": 0}},
  "color": {"field": "theta", "type": "nominal", "scale": {"domain": [1,2,3], "range": ["#F8766D","#00BA38","#619CFF"]}, "legend": {"title": "theta", "orient": "none", "legendX": 772, "legendY": 138, "symbolType": "M0,-0.85L0,-0.5M-0.7,-0.5L0.7,-0.5L0.7,0.5L-0.7,0.5ZM-0.7,0L0.7,0M0,0.5L0,0.85", "symbolSize": 220, "symbolStrokeWidth": 1, "titleFontSize": 11, "titleFontWeight": "normal", "titleColor": "black", "labelFontSize": 8.8, "labelColor": "black", "rowPadding": 4, "titlePadding": 8}}
 },
 "layer": [
  {"data": {"name": "kdbox"}, "transform": [{"filter": "datum.J == 18 && datum.R == 6"}], "mark": {"type": "bar", "filled": false, "fill": "white", "strokeWidth": 1},
   "encoding": {"y": {"field": "q1", "type": "quantitative", "title": null, "scale": {"domain": [-0.35, 7.35], "nice": false, "zero": false}, "axis": {"values": [0,1,2,3,4,5,6,7], "labels": false, "ticks": false, "gridWidth": {"condition": {"test": "datum.value % 2 == 0", "value": 1.4}, "value": 0.7}}}, "y2": {"field": "q3"}}},
  {"data": {"name": "kdbox"}, "transform": [{"filter": "datum.J == 18 && datum.R == 6"}], "mark": {"type": "rule", "strokeWidth": 1},
   "encoding": {"y": {"field": "q3", "type": "quantitative", "title": null, "scale": {"domain": [-0.35, 7.35], "nice": false, "zero": false}, "axis": {"values": [0,1,2,3,4,5,6,7], "labels": false, "ticks": false, "gridWidth": {"condition": {"test": "datum.value % 2 == 0", "value": 1.4}, "value": 0.7}}}, "y2": {"field": "hi"}}},
  {"data": {"name": "kdbox"}, "transform": [{"filter": "datum.J == 18 && datum.R == 6"}], "mark": {"type": "bar", "filled": false, "strokeWidth": 2},
   "encoding": {"y": {"field": "med", "type": "quantitative", "title": null, "scale": {"domain": [-0.35, 7.35], "nice": false, "zero": false}, "axis": {"values": [0,1,2,3,4,5,6,7], "labels": false, "ticks": false, "gridWidth": {"condition": {"test": "datum.value % 2 == 0", "value": 1.4}, "value": 0.7}}}, "y2": {"field": "med"}}},
  {"data": {"name": "kdout"}, "transform": [{"filter": "datum.J == 18 && datum.R == 6"}], "mark": {"type": "point", "filled": false, "size": 2, "strokeWidth": 1.2, "opacity": 1},
   "encoding": {"y": {"field": "value", "type": "quantitative", "title": null, "scale": {"domain": [-0.35, 7.35], "nice": false, "zero": false}, "axis": {"values": [0,1,2,3,4,5,6,7], "labels": false, "ticks": false, "gridWidth": {"condition": {"test": "datum.value % 2 == 0", "value": 1.4}, "value": 0.7}}}}}
 ]},
{"width": 119, "height": 88, "view": {"fill": null, "stroke": null}, "data": {"values": []}, "mark": "point", "encoding": {}},
{"width": 119, "height": 88,
 "encoding": {
  "x": {"field": "Algorithm", "type": "nominal", "sort": ["Crude","LP","FV","Greedy","GreedyLocal"], "scale": {"paddingInner": 0.25, "paddingOuter": 0.225}, "title": null, "axis": {"labels": true, "ticks": true}},
  "xOffset": {"field": "theta", "type": "nominal", "scale": {"paddingInner": 0, "paddingOuter": 0}},
  "color": {"field": "theta", "type": "nominal", "scale": {"domain": [1,2,3], "range": ["#F8766D","#00BA38","#619CFF"]}, "legend": {"title": "theta", "orient": "none", "legendX": 772, "legendY": 138, "symbolType": "M0,-0.85L0,-0.5M-0.7,-0.5L0.7,-0.5L0.7,0.5L-0.7,0.5ZM-0.7,0L0.7,0M0,0.5L0,0.85", "symbolSize": 220, "symbolStrokeWidth": 1, "titleFontSize": 11, "titleFontWeight": "normal", "titleColor": "black", "labelFontSize": 8.8, "labelColor": "black", "rowPadding": 4, "titlePadding": 8}}
 },
 "layer": [
  {"data": {"name": "kdbox"}, "transform": [{"filter": "datum.J == 12 && datum.R == 12"}], "mark": {"type": "bar", "filled": false, "fill": "white", "strokeWidth": 1},
   "encoding": {"y": {"field": "q1", "type": "quantitative", "title": null, "scale": {"domain": [-0.35, 7.35], "nice": false, "zero": false}, "axis": {"values": [0,1,2,3,4,5,6,7], "labelExpr": "datum.value % 2 == 0 ? datum.label : ''", "gridWidth": {"condition": {"test": "datum.value % 2 == 0", "value": 1.4}, "value": 0.7}, "tickColor": {"condition": {"test": "datum.value % 2 == 0", "value": "#333333"}, "value": "transparent"}}}, "y2": {"field": "q3"}}},
  {"data": {"name": "kdbox"}, "transform": [{"filter": "datum.J == 12 && datum.R == 12"}], "mark": {"type": "rule", "strokeWidth": 1},
   "encoding": {"y": {"field": "q3", "type": "quantitative", "title": null, "scale": {"domain": [-0.35, 7.35], "nice": false, "zero": false}, "axis": {"values": [0,1,2,3,4,5,6,7], "labelExpr": "datum.value % 2 == 0 ? datum.label : ''", "gridWidth": {"condition": {"test": "datum.value % 2 == 0", "value": 1.4}, "value": 0.7}, "tickColor": {"condition": {"test": "datum.value % 2 == 0", "value": "#333333"}, "value": "transparent"}}}, "y2": {"field": "hi"}}},
  {"data": {"name": "kdbox"}, "transform": [{"filter": "datum.J == 12 && datum.R == 12"}], "mark": {"type": "bar", "filled": false, "strokeWidth": 2},
   "encoding": {"y": {"field": "med", "type": "quantitative", "title": null, "scale": {"domain": [-0.35, 7.35], "nice": false, "zero": false}, "axis": {"values": [0,1,2,3,4,5,6,7], "labelExpr": "datum.value % 2 == 0 ? datum.label : ''", "gridWidth": {"condition": {"test": "datum.value % 2 == 0", "value": 1.4}, "value": 0.7}, "tickColor": {"condition": {"test": "datum.value % 2 == 0", "value": "#333333"}, "value": "transparent"}}}, "y2": {"field": "med"}}},
  {"data": {"name": "kdout"}, "transform": [{"filter": "datum.J == 12 && datum.R == 12"}], "mark": {"type": "point", "filled": false, "size": 2, "strokeWidth": 1.2, "opacity": 1},
   "encoding": {"y": {"field": "value", "type": "quantitative", "title": null, "scale": {"domain": [-0.35, 7.35], "nice": false, "zero": false}, "axis": {"values": [0,1,2,3,4,5,6,7], "labelExpr": "datum.value % 2 == 0 ? datum.label : ''", "gridWidth": {"condition": {"test": "datum.value % 2 == 0", "value": 1.4}, "value": 0.7}, "tickColor": {"condition": {"test": "datum.value % 2 == 0", "value": "#333333"}, "value": "transparent"}}}}}
 ]},
{"width": 119, "height": 88,
 "encoding": {
  "x": {"field": "Algorithm", "type": "nominal", "sort": ["Crude","LP","FV","Greedy","GreedyLocal"], "scale": {"paddingInner": 0.25, "paddingOuter": 0.225}, "title": null, "axis": {"labels": false, "ticks": false}},
  "xOffset": {"field": "theta", "type": "nominal", "scale": {"paddingInner": 0, "paddingOuter": 0}},
  "color": {"field": "theta", "type": "nominal", "scale": {"domain": [1,2,3], "range": ["#F8766D","#00BA38","#619CFF"]}, "legend": {"title": "theta", "orient": "none", "legendX": 772, "legendY": 138, "symbolType": "M0,-0.85L0,-0.5M-0.7,-0.5L0.7,-0.5L0.7,0.5L-0.7,0.5ZM-0.7,0L0.7,0M0,0.5L0,0.85", "symbolSize": 220, "symbolStrokeWidth": 1, "titleFontSize": 11, "titleFontWeight": "normal", "titleColor": "black", "labelFontSize": 8.8, "labelColor": "black", "rowPadding": 4, "titlePadding": 8}}
 },
 "layer": [
  {"data": {"name": "kdbox"}, "transform": [{"filter": "datum.J == 18 && datum.R == 12"}], "mark": {"type": "bar", "filled": false, "fill": "white", "strokeWidth": 1},
   "encoding": {"y": {"field": "q1", "type": "quantitative", "title": null, "scale": {"domain": [-0.35, 7.35], "nice": false, "zero": false}, "axis": {"values": [0,1,2,3,4,5,6,7], "labels": false, "ticks": false, "gridWidth": {"condition": {"test": "datum.value % 2 == 0", "value": 1.4}, "value": 0.7}}}, "y2": {"field": "q3"}}},
  {"data": {"name": "kdbox"}, "transform": [{"filter": "datum.J == 18 && datum.R == 12"}], "mark": {"type": "rule", "strokeWidth": 1},
   "encoding": {"y": {"field": "q3", "type": "quantitative", "title": null, "scale": {"domain": [-0.35, 7.35], "nice": false, "zero": false}, "axis": {"values": [0,1,2,3,4,5,6,7], "labels": false, "ticks": false, "gridWidth": {"condition": {"test": "datum.value % 2 == 0", "value": 1.4}, "value": 0.7}}}, "y2": {"field": "hi"}}},
  {"data": {"name": "kdbox"}, "transform": [{"filter": "datum.J == 18 && datum.R == 12"}], "mark": {"type": "bar", "filled": false, "strokeWidth": 2},
   "encoding": {"y": {"field": "med", "type": "quantitative", "title": null, "scale": {"domain": [-0.35, 7.35], "nice": false, "zero": false}, "axis": {"values": [0,1,2,3,4,5,6,7], "labels": false, "ticks": false, "gridWidth": {"condition": {"test": "datum.value % 2 == 0", "value": 1.4}, "value": 0.7}}}, "y2": {"field": "med"}}},
  {"data": {"name": "kdout"}, "transform": [{"filter": "datum.J == 18 && datum.R == 12"}], "mark": {"type": "point", "filled": false, "size": 2, "strokeWidth": 1.2, "opacity": 1},
   "encoding": {"y": {"field": "value", "type": "quantitative", "title": null, "scale": {"domain": [-0.35, 7.35], "nice": false, "zero": false}, "axis": {"values": [0,1,2,3,4,5,6,7], "labels": false, "ticks": false, "gridWidth": {"condition": {"test": "datum.value % 2 == 0", "value": 1.4}, "value": 0.7}}}}}
 ]},
{"width": 119, "height": 88, "view": {"fill": null, "stroke": null}, "data": {"values": []}, "mark": "point", "encoding": {}},
{"width": 119, "height": 88, "view": {"fill": null, "stroke": null}, "data": {"values": []}, "mark": "point", "encoding": {}},
{"width": 119, "height": 88,
 "encoding": {
  "x": {"field": "Algorithm", "type": "nominal", "sort": ["Crude","LP","FV","Greedy","GreedyLocal"], "scale": {"paddingInner": 0.25, "paddingOuter": 0.225}, "title": null, "axis": {"labels": true, "ticks": true}},
  "xOffset": {"field": "theta", "type": "nominal", "scale": {"paddingInner": 0, "paddingOuter": 0}},
  "color": {"field": "theta", "type": "nominal", "scale": {"domain": [1,2,3], "range": ["#F8766D","#00BA38","#619CFF"]}, "legend": {"title": "theta", "orient": "none", "legendX": 772, "legendY": 138, "symbolType": "M0,-0.85L0,-0.5M-0.7,-0.5L0.7,-0.5L0.7,0.5L-0.7,0.5ZM-0.7,0L0.7,0M0,0.5L0,0.85", "symbolSize": 220, "symbolStrokeWidth": 1, "titleFontSize": 11, "titleFontWeight": "normal", "titleColor": "black", "labelFontSize": 8.8, "labelColor": "black", "rowPadding": 4, "titlePadding": 8}}
 },
 "layer": [
  {"data": {"name": "kdbox"}, "transform": [{"filter": "datum.J == 18 && datum.R == 18"}], "mark": {"type": "bar", "filled": false, "fill": "white", "strokeWidth": 1},
   "encoding": {"y": {"field": "q1", "type": "quantitative", "title": null, "scale": {"domain": [-0.35, 7.35], "nice": false, "zero": false}, "axis": {"values": [0,1,2,3,4,5,6,7], "labelExpr": "datum.value % 2 == 0 ? datum.label : ''", "gridWidth": {"condition": {"test": "datum.value % 2 == 0", "value": 1.4}, "value": 0.7}, "tickColor": {"condition": {"test": "datum.value % 2 == 0", "value": "#333333"}, "value": "transparent"}}}, "y2": {"field": "q3"}}},
  {"data": {"name": "kdbox"}, "transform": [{"filter": "datum.J == 18 && datum.R == 18"}], "mark": {"type": "rule", "strokeWidth": 1},
   "encoding": {"y": {"field": "q3", "type": "quantitative", "title": null, "scale": {"domain": [-0.35, 7.35], "nice": false, "zero": false}, "axis": {"values": [0,1,2,3,4,5,6,7], "labelExpr": "datum.value % 2 == 0 ? datum.label : ''", "gridWidth": {"condition": {"test": "datum.value % 2 == 0", "value": 1.4}, "value": 0.7}, "tickColor": {"condition": {"test": "datum.value % 2 == 0", "value": "#333333"}, "value": "transparent"}}}, "y2": {"field": "hi"}}},
  {"data": {"name": "kdbox"}, "transform": [{"filter": "datum.J == 18 && datum.R == 18"}], "mark": {"type": "bar", "filled": false, "strokeWidth": 2},
   "encoding": {"y": {"field": "med", "type": "quantitative", "title": null, "scale": {"domain": [-0.35, 7.35], "nice": false, "zero": false}, "axis": {"values": [0,1,2,3,4,5,6,7], "labelExpr": "datum.value % 2 == 0 ? datum.label : ''", "gridWidth": {"condition": {"test": "datum.value % 2 == 0", "value": 1.4}, "value": 0.7}, "tickColor": {"condition": {"test": "datum.value % 2 == 0", "value": "#333333"}, "value": "transparent"}}}, "y2": {"field": "med"}}},
  {"data": {"name": "kdout"}, "transform": [{"filter": "datum.J == 18 && datum.R == 18"}], "mark": {"type": "point", "filled": false, "size": 2, "strokeWidth": 1.2, "opacity": 1},
   "encoding": {"y": {"field": "value", "type": "quantitative", "title": null, "scale": {"domain": [-0.35, 7.35], "nice": false, "zero": false}, "axis": {"values": [0,1,2,3,4,5,6,7], "labelExpr": "datum.value % 2 == 0 ? datum.label : ''", "gridWidth": {"condition": {"test": "datum.value % 2 == 0", "value": 1.4}, "value": 0.7}, "tickColor": {"condition": {"test": "datum.value % 2 == 0", "value": "#333333"}, "value": "transparent"}}}}}
 ]}
 ]},
{"spacing": 5, "vconcat": [
{"width": 16, "height": 88, "view": {"fill": "#D9D9D9", "stroke": null}, "data": {"values": [{"label": "R: 6"}]}, "mark": {"type": "text", "fontSize": 8.8, "color": "#1A1A1A", "angle": 90}, "encoding": {"text": {"field": "label"}}},
{"width": 16, "height": 88, "view": {"fill": "#D9D9D9", "stroke": null}, "data": {"values": [{"label": "R: 12"}]}, "mark": {"type": "text", "fontSize": 8.8, "color": "#1A1A1A", "angle": 90}, "encoding": {"text": {"field": "label"}}},
{"width": 16, "height": 88, "view": {"fill": "#D9D9D9", "stroke": null}, "data": {"values": [{"label": "R: 18"}]}, "mark": {"type": "text", "fontSize": 8.8, "color": "#1A1A1A", "angle": 90}, "encoding": {"text": {"field": "label"}}}
]}
]}
]
}
],
"spacing": 14,
"config": {
"font": "Liberation Sans",
"view": {"fill": "#EBEBEB", "stroke": null},
"axis": {"domain": false, "grid": true, "gridColor": "white", "tickColor": "#333333", "tickSize": 2.75, "tickWidth": 1, "labelColor": "#4D4D4D", "labelFontSize": 8, "labelPadding": 1.5},
"axisX": {"labelAngle": -45, "labelAlign": "right", "labelBaseline": "top", "bandPosition": 0.5, "gridWidth": 1.4},
"title": {"fontSize": 11, "fontWeight": "normal", "color": "black"}
}
}
